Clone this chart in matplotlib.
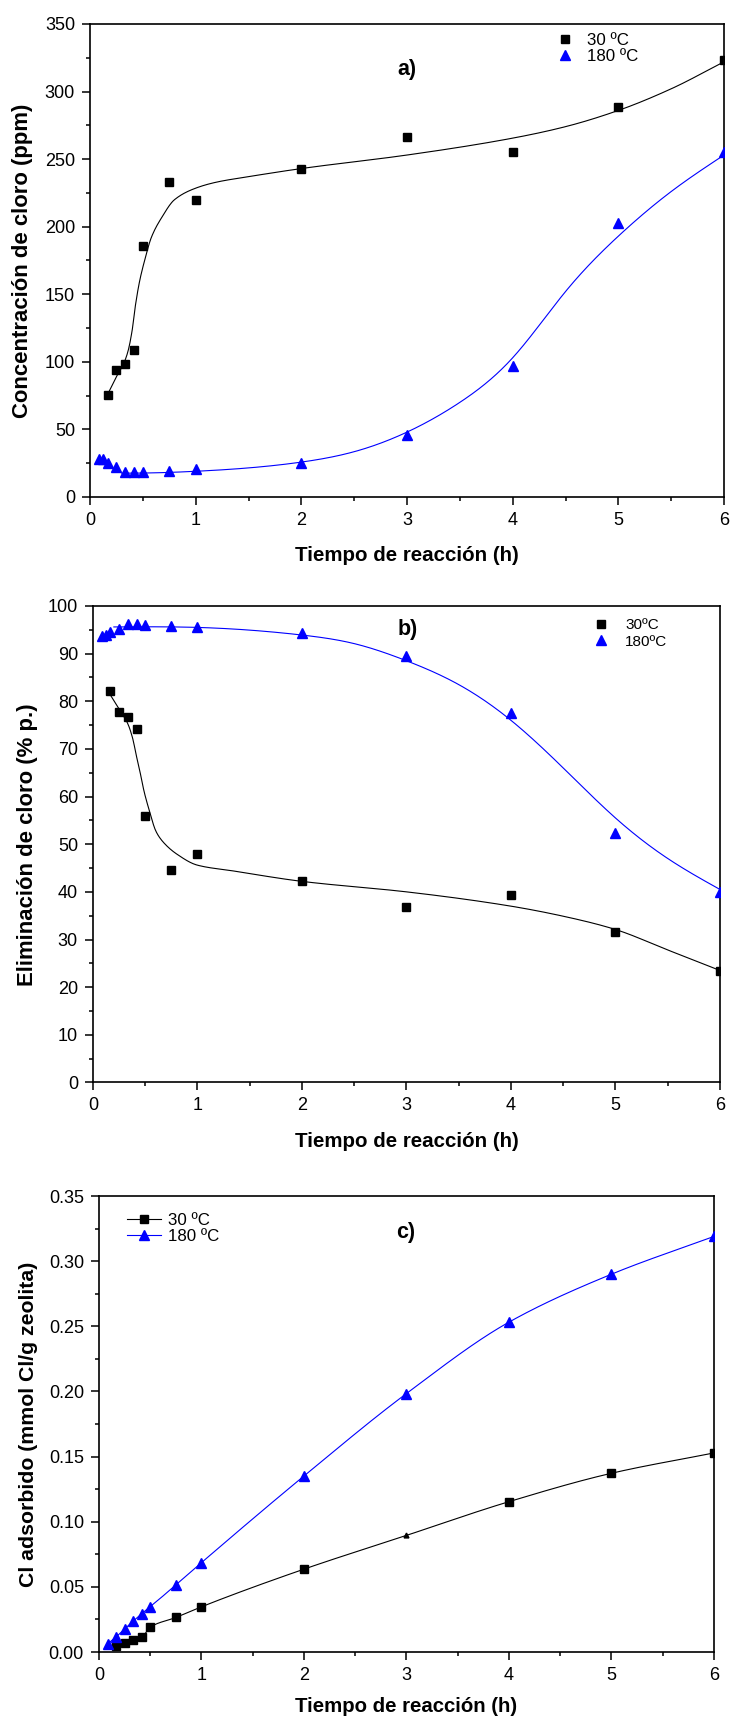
import numpy as np
import matplotlib
matplotlib.use("Agg")
import matplotlib.pyplot as plt
from matplotlib.lines import Line2D
from matplotlib.ticker import MultipleLocator, FormatStrFormatter

plt.rcParams['font.family'] = ['Liberation Sans', 'DejaVu Sans']

# ---------------- data ----------------
# a) chlorine concentration (ppm)
t_a30 = [0.1667, 0.25, 0.3333, 0.4167, 0.5, 0.75, 1, 2, 3, 4, 5, 6]
c_a30 = [75.3, 93.8, 98.6, 108.5, 185.5, 233.0, 219.5, 243.0, 266.0, 255.3, 288.5, 323.5]
t_a180 = [0.0833, 0.125, 0.1667, 0.25, 0.3333, 0.4167, 0.5, 0.75, 1, 2, 3, 4, 5, 6]
c_a180 = [28.0, 28.4, 25.3, 22.0, 18.2, 18.6, 18.6, 19.1, 20.6, 25.5, 46.1, 96.7, 203.0, 255.0]

# fitted trend lines for a)
fit_a30_t = [0.167, 0.25, 0.32, 0.36, 0.40, 0.43, 0.47, 0.52, 0.58, 0.68, 0.80, 1.0, 1.2, 1.5, 2, 3, 4, 4.5, 5, 5.5, 6]
fit_a30_c = [76, 89, 99, 108, 124, 142, 160, 176, 192, 207, 220, 228.5, 233, 237, 243, 253, 265.5, 274, 286, 302, 322]
fit_a180_t = [0.3, 0.5, 1, 1.5, 2, 2.5, 3, 3.5, 4, 4.5, 5, 5.5, 6]
fit_a180_c = [17.6, 17.7, 19.0, 21.5, 25.8, 33.5, 48.0, 70.0, 103.0, 152.0, 193.0, 226.0, 253.0]

# b) chlorine removal (% wt.)
t_b30 = [0.1667, 0.25, 0.3333, 0.4167, 0.5, 0.75, 1, 2, 3, 4, 5, 6]
e_b30 = [82.1, 77.7, 76.6, 74.1, 55.9, 44.6, 47.9, 42.2, 36.8, 39.4, 31.5, 23.3]
t_b180 = [0.0833, 0.125, 0.1667, 0.25, 0.3333, 0.4167, 0.5, 0.75, 1, 2, 3, 4, 5, 6]
e_b180 = [93.8, 94.0, 94.5, 95.2, 96.2, 96.2, 96.0, 95.8, 95.6, 94.4, 89.5, 77.5, 52.4, 40.0]

fit_b30_t = [0.17, 0.255, 0.335, 0.38, 0.416, 0.447, 0.49, 0.536, 0.603, 0.67, 0.804, 1.0, 1.34, 2, 3, 4, 4.6, 5, 5.5, 6]
fit_b30_e = [81.2, 78.2, 75.2, 72.2, 68.5, 65.5, 61.0, 57.3, 52.7, 50.5, 47.9, 45.6, 44.4, 42.2, 40.0, 37.0, 34.4, 32.1, 27.8, 23.5]
fit_b180_t = [0.2, 1, 2, 2.5, 3, 3.5, 4, 4.5, 5, 5.5, 6]
fit_b180_e = [95.6, 95.5, 93.9, 92.1, 88.5, 83.5, 76.0, 66.0, 55.5, 47.0, 40.5]

# c) adsorbed chlorine (mmol Cl/g zeolite)
t_c30 = [0.1667, 0.25, 0.3333, 0.4167, 0.5, 0.75, 1, 2, 3, 4, 5, 6]
q_c30 = [0.0044, 0.0071, 0.0091, 0.0112, 0.0191, 0.0265, 0.0347, 0.0636, 0.0895, 0.1154, 0.1372, 0.1528]
t_c180 = [0.0833, 0.1667, 0.25, 0.3333, 0.4167, 0.5, 0.75, 1, 2, 3, 4, 5, 6]
q_c180 = [0.0062, 0.0115, 0.0177, 0.0236, 0.0294, 0.0347, 0.0515, 0.0686, 0.1351, 0.1984, 0.2532, 0.2900, 0.3190]

labels_ac = ['30 ºC', '180 ºC']
labels_b = ['30ºC', '180ºC']
xlabel = 'Tiempo de reacción (h)'
ylabels = ['Concentración de cloro (ppm)', 'Eliminación de cloro (% p.)',
           'Cl adsorbido (mmol Cl/g zeolita)']

BLUE = '#0000ff'
BLACK = '#000000'
MS_SQ = 6.4
MS_TRI = 7.5


def hermite(x, y, m, xs):
    h = np.diff(x)
    idx = np.clip(np.searchsorted(x, xs) - 1, 0, len(x) - 2)
    hk = h[idx]
    s = (xs - x[idx]) / hk
    h00 = 2 * s**3 - 3 * s**2 + 1
    h10 = s**3 - 2 * s**2 + s
    h01 = -2 * s**3 + 3 * s**2
    h11 = s**3 - s**2
    return h00 * y[idx] + h10 * hk * m[idx] + h01 * y[idx + 1] + h11 * hk * m[idx + 1]


def pchip(x, y, xs):
    """Shape-preserving piecewise cubic Hermite curve evaluated at xs."""
    x = np.asarray(x, float)
    y = np.asarray(y, float)
    h = np.diff(x)
    d = np.diff(y) / h
    m = np.zeros_like(y)
    for k in range(1, len(x) - 1):
        if d[k - 1] * d[k] > 0:
            w1 = 2 * h[k] + h[k - 1]
            w2 = h[k] + 2 * h[k - 1]
            m[k] = (w1 + w2) / (w1 / d[k - 1] + w2 / d[k])
    m[0] = d[0]
    m[-1] = d[-1]
    return hermite(x, y, m, xs)


def natural_spline(x, y, xs):
    """Natural cubic spline through (x, y), evaluated at xs."""
    x = np.asarray(x, float)
    y = np.asarray(y, float)
    n = len(x)
    h = np.diff(x)
    A = np.zeros((n, n))
    r = np.zeros(n)
    A[0, 0] = A[-1, -1] = 1.0
    for i in range(1, n - 1):
        A[i, i - 1] = h[i - 1]
        A[i, i] = 2 * (h[i - 1] + h[i])
        A[i, i + 1] = h[i]
        r[i] = 6 * ((y[i + 1] - y[i]) / h[i] - (y[i] - y[i - 1]) / h[i - 1])
    M = np.linalg.solve(A, r)
    idx = np.clip(np.searchsorted(x, xs) - 1, 0, n - 2)
    hk = h[idx]
    a = x[idx + 1] - xs
    b = xs - x[idx]
    return (M[idx] * a**3 + M[idx + 1] * b**3) / (6 * hk) + \
        (y[idx] / hk - M[idx] * hk / 6) * a + (y[idx + 1] / hk - M[idx + 1] * hk / 6) * b


def smooth(ax, x, y, color, kind='pchip'):
    xs = np.linspace(x[0], x[-1], 800)
    f = pchip if kind == 'pchip' else natural_spline
    ax.plot(xs, f(x, y, xs), color=color, lw=0.8, zorder=2)


def style(ax, ymax, ymajor, yminor, fmt, ylabel, ylab_x, xlab_y):
    ax.set_xlim(0, 6)
    ax.set_ylim(0, ymax)
    ax.xaxis.set_major_locator(MultipleLocator(1))
    ax.xaxis.set_minor_locator(MultipleLocator(0.5))
    ax.yaxis.set_major_locator(MultipleLocator(ymajor))
    ax.yaxis.set_minor_locator(MultipleLocator(yminor))
    ax.yaxis.set_major_formatter(FormatStrFormatter(fmt))
    ax.xaxis.set_major_formatter(FormatStrFormatter('%d'))
    ax.tick_params(which='both', direction='out', top=False, right=False, width=1.1)
    ax.tick_params(which='major', length=5.8, pad=5, labelsize=13)
    ax.tick_params(which='minor', length=3.0)
    for sp in ax.spines.values():
        sp.set_linewidth(1.2)
    ax.set_xlabel(xlabel, fontsize=15, fontweight='bold', va='center')
    ax.set_ylabel(ylabel, fontsize=15, fontweight='bold', va='center')
    ax.xaxis.set_label_coords(0.5, xlab_y)
    ax.yaxis.set_label_coords(ylab_x, 0.5)


fig = plt.figure(figsize=(7.32, 17.22), dpi=100)
ax_a = fig.add_axes([0.1230, 0.7114, 0.8661, 0.2747])
ax_b = fig.add_axes([0.1270, 0.3714, 0.8566, 0.2767])
ax_c = fig.add_axes([0.1352, 0.04065, 0.8402, 0.2648])

# ---- a) ----
smooth(ax_a, fit_a30_t, fit_a30_c, BLACK)
smooth(ax_a, fit_a180_t, fit_a180_c, BLUE, kind='spline')
ax_a.plot(t_a30, c_a30, 's', color=BLACK, ms=MS_SQ, ls='none', label=labels_ac[0], zorder=3)
ax_a.plot(t_a180, c_a180, '^', color=BLUE, ms=MS_TRI, ls='none', label=labels_ac[1], zorder=3)
style(ax_a, 350, 50, 25, '%d', ylabels[0], -0.107, -0.1247)
ax_a.text(0.5, 0.9027, 'a)', transform=ax_a.transAxes, ha='center', va='center',
          fontsize=15.5, fontweight='bold')
ax_a.legend(loc='upper left', bbox_to_anchor=(0.7353, 0.981), frameon=False,
            fontsize=12.2, borderpad=0, borderaxespad=0, handlelength=1.0,
            handletextpad=0.8, labelspacing=0.08)

# ---- b) ----
smooth(ax_b, fit_b30_t, fit_b30_e, BLACK)
smooth(ax_b, fit_b180_t, fit_b180_e, BLUE, kind='spline')
ax_b.plot(t_b30, e_b30, 's', color=BLACK, ms=MS_SQ, ls='none', label=labels_b[0], zorder=3)
ax_b.plot(t_b180, e_b180, '^', color=BLUE, ms=MS_TRI, ls='none', label=labels_b[1], zorder=3)
style(ax_b, 100, 10, 5, '%d', ylabels[1], -0.104, -0.1229)
ax_b.text(0.5016, 0.9506, 'b)', transform=ax_b.transAxes, ha='center', va='center',
          fontsize=15.5, fontweight='bold')
ax_b.legend(loc='upper left', bbox_to_anchor=(0.7986, 0.9748), frameon=False,
            fontsize=11, borderpad=0, borderaxespad=0, handlelength=1.0,
            handletextpad=1.05, labelspacing=0.18)

# ---- c) ----
smooth(ax_c, t_c30, q_c30, BLACK)
smooth(ax_c, t_c180, q_c180, BLUE)
mk30 = ['^' if t == 3 else 's' for t in t_c30]
for t, q, m in zip(t_c30, q_c30, mk30):
    ax_c.plot([t], [q], m, color=BLACK, ms=MS_SQ if m == 's' else 3.5, zorder=3)
ax_c.plot(t_c180, q_c180, '^', color=BLUE, ms=MS_TRI, ls='none', zorder=3)
style(ax_c, 0.35, 0.05, 0.025, '%.2f', ylabels[2], -0.114, -0.1206)
ax_c.text(0.499, 0.921, 'c)', transform=ax_c.transAxes, ha='center', va='center',
          fontsize=15.5, fontweight='bold')
handles = [Line2D([], [], color=BLACK, lw=0.8, marker='s', ms=MS_SQ),
           Line2D([], [], color=BLUE, lw=0.8, marker='^', ms=MS_TRI)]
ax_c.legend(handles, labels_ac, loc='upper left', bbox_to_anchor=(0.045, 0.9627),
            frameon=False, fontsize=12.2, borderpad=0, borderaxespad=0,
            handlelength=2.05, handletextpad=0.4, labelspacing=0.05)

# size the axis titles to their printed lengths (pixels)
renderer = fig.canvas.get_renderer()
title_len = {ax_a: (226, 316), ax_b: (226, 284), ax_c: (224, 326)}
for ax, (xlen, ylen) in title_len.items():
    xl = ax.xaxis.label
    xl.set_fontsize(xl.get_fontsize() * xlen / xl.get_window_extent(renderer).width)
    yl = ax.yaxis.label
    yl.set_fontsize(yl.get_fontsize() * ylen / yl.get_window_extent(renderer).height)

fig.savefig('out.png', dpi=100, facecolor='white')
